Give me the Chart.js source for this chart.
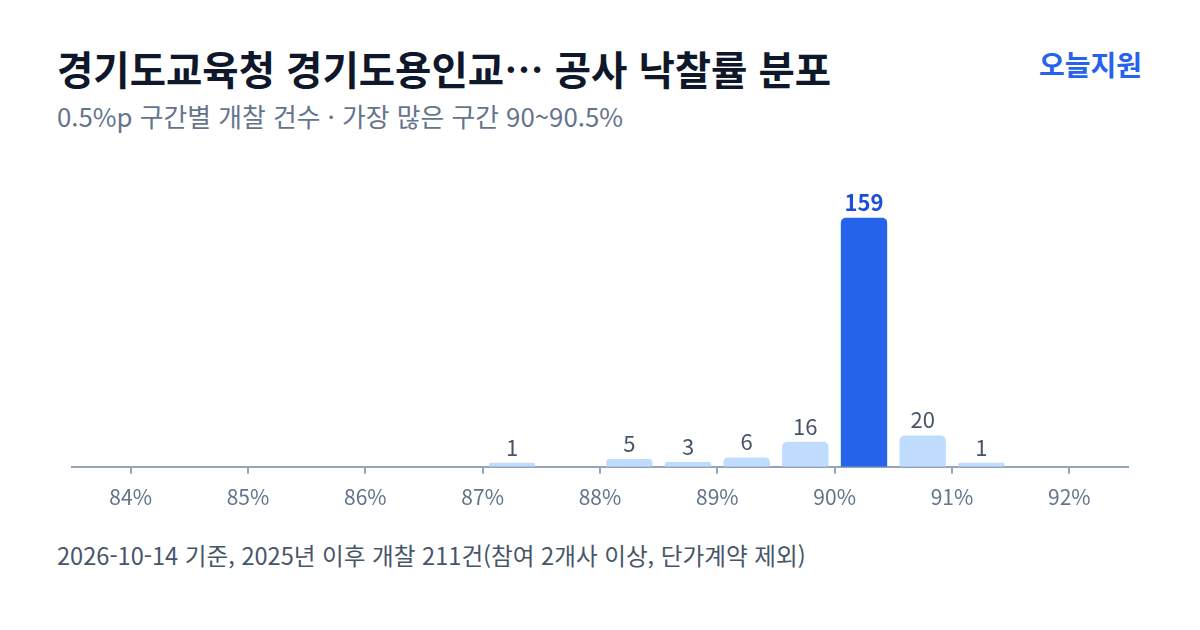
<!DOCTYPE html>
<html lang="ko">
<head>
<meta charset="utf-8">
<script src="https://cdn.jsdelivr.net/npm/chart.js@4"></script>
<style>
  html, body { margin: 0; padding: 0; background: #fff; }
  body { width: 1200px; height: 630px; position: relative; overflow: hidden; font-family: "Noto Sans CJK KR", "Noto Sans", sans-serif; }
  #title { position: absolute; left: 57px; top: 43px; font-size: 39.5px; font-weight: 700; color: #0f172a; line-height: 50px; white-space: nowrap; }
  #brand { position: absolute; right: 58px; top: 45px; font-size: 28px; font-weight: 700; color: #2563eb; line-height: 38px; }
  #subtitle { position: absolute; left: 57px; top: 99px; font-size: 25.8px; color: #64748b; line-height: 34px; white-space: nowrap; }
  #footer { position: absolute; left: 57px; top: 539px; font-size: 23.6px; color: #475569; line-height: 32px; white-space: nowrap; }
  #wrap { position: absolute; left: 0; top: 150px; width: 1200px; height: 380px; }
</style>
</head>
<body>
<div id="title">경기도교육청 경기도용인교… 공사 낙찰률 분포</div>
<div id="brand">오늘지원</div>
<div id="subtitle">0.5%p 구간별 개찰 건수 · 가장 많은 구간 90~90.5%</div>
<div id="wrap"><canvas id="c" width="1200" height="380"></canvas></div>
<div id="footer">2026-10-14 기준, 2025년 이후 개찰 211건(참여 2개사 이상, 단가계약 제외)</div>
<script>
// bin starts (%), each bin is 0.5%p wide
const binStarts = [84, 84.5, 85, 85.5, 86, 86.5, 87, 87.5, 88, 88.5, 89, 89.5, 90, 90.5, 91, 91.5, 92];
const counts    = [0,  0,    0,  0,    0,  0,    1,  0,    5,  3,    6,  16,   159, 20,  1,  0,    0];
const tickValues = [84, 85, 86, 87, 88, 89, 90, 91, 92];
const highlightStart = 90;

const points = binStarts.map((s, i) => ({ x: s + 0.25, y: counts[i] > 0 ? counts[i] : null }));
const colors = binStarts.map(s => s === highlightStart ? '#2563eb' : '#bfdbfe');

const valueLabels = {
  id: 'valueLabels',
  afterDatasetsDraw(chart) {
    const ctx = chart.ctx;
    const meta = chart.getDatasetMeta(0);
    ctx.save();
    ctx.textAlign = 'center';
    ctx.textBaseline = 'alphabetic';
    meta.data.forEach((bar, i) => {
      const v = counts[i];
      if (!v) return;
      const hi = binStarts[i] === highlightStart;
      ctx.font = (hi ? '700 ' : '400 ') + '22px "Noto Sans CJK KR", "Noto Sans", sans-serif';
      ctx.fillStyle = hi ? '#1d4ed8' : '#475569';
      ctx.fillText(String(v), bar.x, bar.y - 7);
    });
    ctx.restore();
  }
};

new Chart(document.getElementById('c'), {
  type: 'bar',
  data: {
    datasets: [{
      data: points,
      backgroundColor: colors,
      borderRadius: 5,
      borderSkipped: 'bottom',
      barPercentage: 0.79,
      categoryPercentage: 1,
      minBarLength: 4
    }]
  },
  options: {
    responsive: false,
    animation: false,
    layout: { padding: { left: 72, right: 72, top: 38, bottom: 9 } },
    plugins: { legend: { display: false }, tooltip: { enabled: false } },
    scales: {
      x: {
        type: 'linear',
        offset: false,
        min: 83.5,
        max: 92.5,
        afterBuildTicks(scale) { scale.ticks = tickValues.map(v => ({ value: v })); },
        grid: { display: true, offset: false, drawOnChartArea: false, drawTicks: true, tickLength: 7, color: '#94a3b8', lineWidth: 2 },
        border: { display: true, color: '#94a3b8', width: 2 },
        ticks: {
          padding: 11,
          color: '#64748b',
          font: { family: '"Noto Sans CJK KR", "Noto Sans", sans-serif', size: 21 },
          callback: v => v + '%',
          maxRotation: 0,
          autoSkip: false
        }
      },
      y: {
        display: false,
        min: 0,
        max: 178
      }
    }
  },
  plugins: [valueLabels]
});
</script>
</body>
</html>
